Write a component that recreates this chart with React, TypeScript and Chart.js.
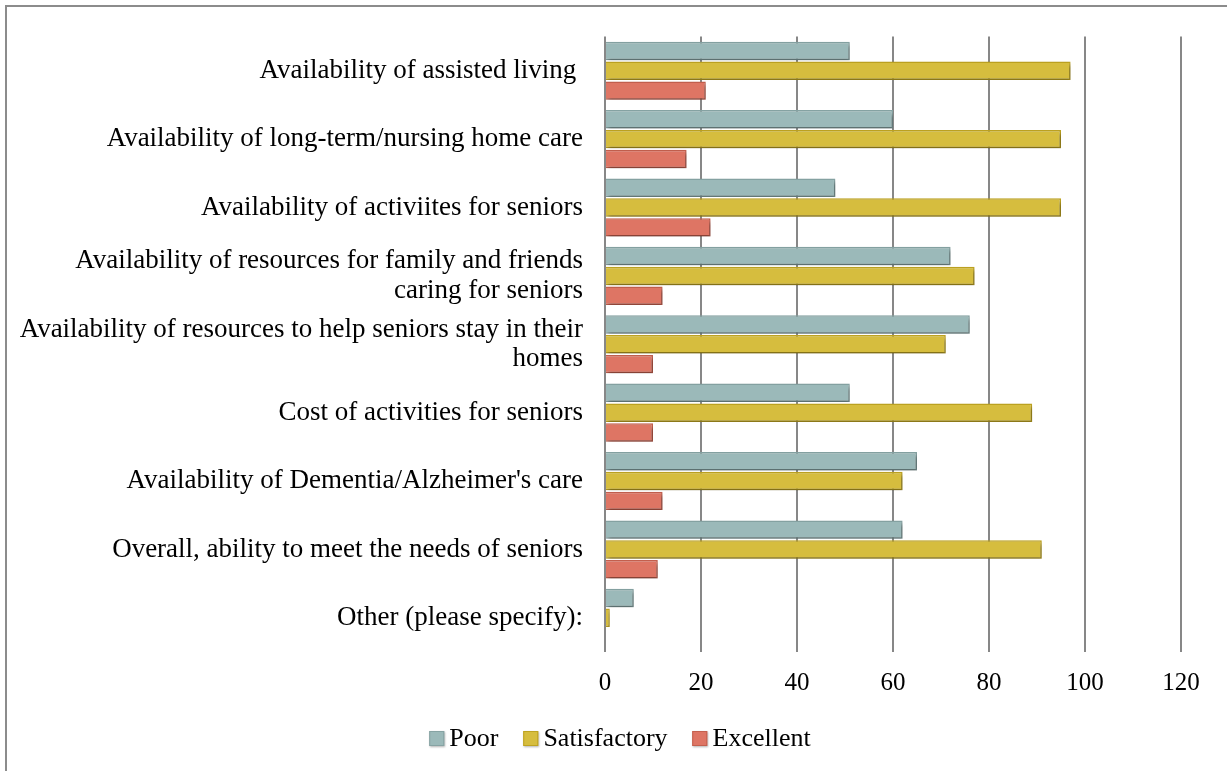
import React, { useEffect, useRef } from "react";
import { Chart, registerables } from "chart.js";

Chart.register(...registerables);

const categories: (string | string[])[] = [
  "Availability of assisted living ",
  "Availability of long-term/nursing home care",
  "Availability of activiites for seniors",
  ["Availability of resources for family and friends", "caring for seniors"],
  ["Availability of resources to help seniors stay in their", "homes"],
  "Cost of activities for seniors",
  "Availability of Dementia/Alzheimer's care",
  "Overall, ability to meet the needs of seniors",
  "Other (please specify):",
];

const seriesNames = ["Poor", "Satisfactory", "Excellent"];
const poor = [51, 60, 48, 72, 76, 51, 65, 62, 6];
const satisfactory = [97, 95, 95, 77, 71, 89, 62, 91, 1];
const excellent = [21, 17, 22, 12, 10, 10, 12, 11, 0];

const fills = ["#9bb9b9", "#d6bd3e", "#de7564"];
const strokes = ["#86a3a3", "#bea321", "#c4604e"];

const xMin = 0;
const xMax = 120;
const xStep = 20;

const FONT = "'Liberation Serif', 'Times New Roman', serif";

const shadowPlugin = {
  id: "barShadow",
  beforeDatasetsDraw(chart: any) {
    const c = chart.ctx;
    c.save();
    c.shadowColor = "rgba(0,0,0,0.35)";
    c.shadowBlur = 4;
    c.shadowOffsetX = 2;
    c.shadowOffsetY = 3;
  },
  afterDatasetsDraw(chart: any) {
    chart.ctx.restore();
  },
};

export default function App() {
  const ref = useRef<HTMLCanvasElement | null>(null);

  useEffect(() => {
    if (!ref.current) return;
    const values = [poor, satisfactory, excellent];
    const chart = new Chart(ref.current, {
      type: "bar",
      data: {
        labels: categories as any,
        datasets: seriesNames.map((name, i) => ({
          label: name,
          data: values[i],
          backgroundColor: fills[i],
          borderColor: strokes[i],
          borderWidth: 1.5,
        })),
      },
      options: {
        indexAxis: "y",
        animation: false,
        responsive: false,
        maintainAspectRatio: false,
        datasets: {
          bar: { categoryPercentage: 0.87, barPercentage: 0.93 },
        },
        layout: { padding: { left: 0, right: 46, top: 33, bottom: 56 } },
        scales: {
          x: {
            min: xMin,
            max: xMax,
            ticks: {
              stepSize: xStep,
              color: "#000",
              padding: 16,
              font: { family: FONT, size: 25 },
            },
            grid: { color: "#878787", lineWidth: 2, drawTicks: false },
            border: { display: false },
            afterFit(scale: any) {
              scale.height = 63;
            },
          },
          y: {
            ticks: {
              color: "#000",
              padding: 22,
              font: { family: FONT, size: 27, lineHeight: 1.08 },
            },
            grid: { display: false, drawTicks: false },
            border: { display: false },
            afterFit(scale: any) {
              scale.width = 605;
            },
          },
        },
        plugins: {
          legend: { display: false },
          tooltip: { enabled: false },
        },
      },
      plugins: [shadowPlugin],
    });
    return () => chart.destroy();
  }, []);

  return (
    <div
      style={{
        position: "absolute",
        left: 0,
        top: 0,
        width: 1227,
        height: 771,
        overflow: "hidden",
        background: "#fff",
      }}
    >
      <div
        style={{
          position: "absolute",
          left: 5,
          top: 5,
          width: 1400,
          height: 900,
          border: "2px solid #8c8c8c",
        }}
      />
      <canvas
        ref={ref}
        width={1227}
        height={771}
        style={{ position: "absolute", left: 0, top: 0, width: 1227, height: 771 }}
      />
      <div
        style={{
          position: "absolute",
          left: 620,
          top: 722,
          transform: "translateX(-50%)",
          display: "flex",
          alignItems: "center",
          whiteSpace: "nowrap",
          fontFamily: FONT,
          fontSize: 26,
          lineHeight: "32px",
          color: "#000",
        }}
      >
        {seriesNames.map((name, i) => (
          <div
            key={name}
            style={{ display: "flex", alignItems: "center", marginLeft: i === 0 ? 0 : 25 }}
          >
            <span
              style={{
                display: "inline-block",
                width: 13,
                height: 13,
                background: fills[i],
                border: `1.5px solid ${strokes[i]}`,
                boxShadow: "1px 1px 2px rgba(0,0,0,0.3)",
                marginRight: 5,
              }}
            />
            <span>{name}</span>
          </div>
        ))}
      </div>
    </div>
  );
}
